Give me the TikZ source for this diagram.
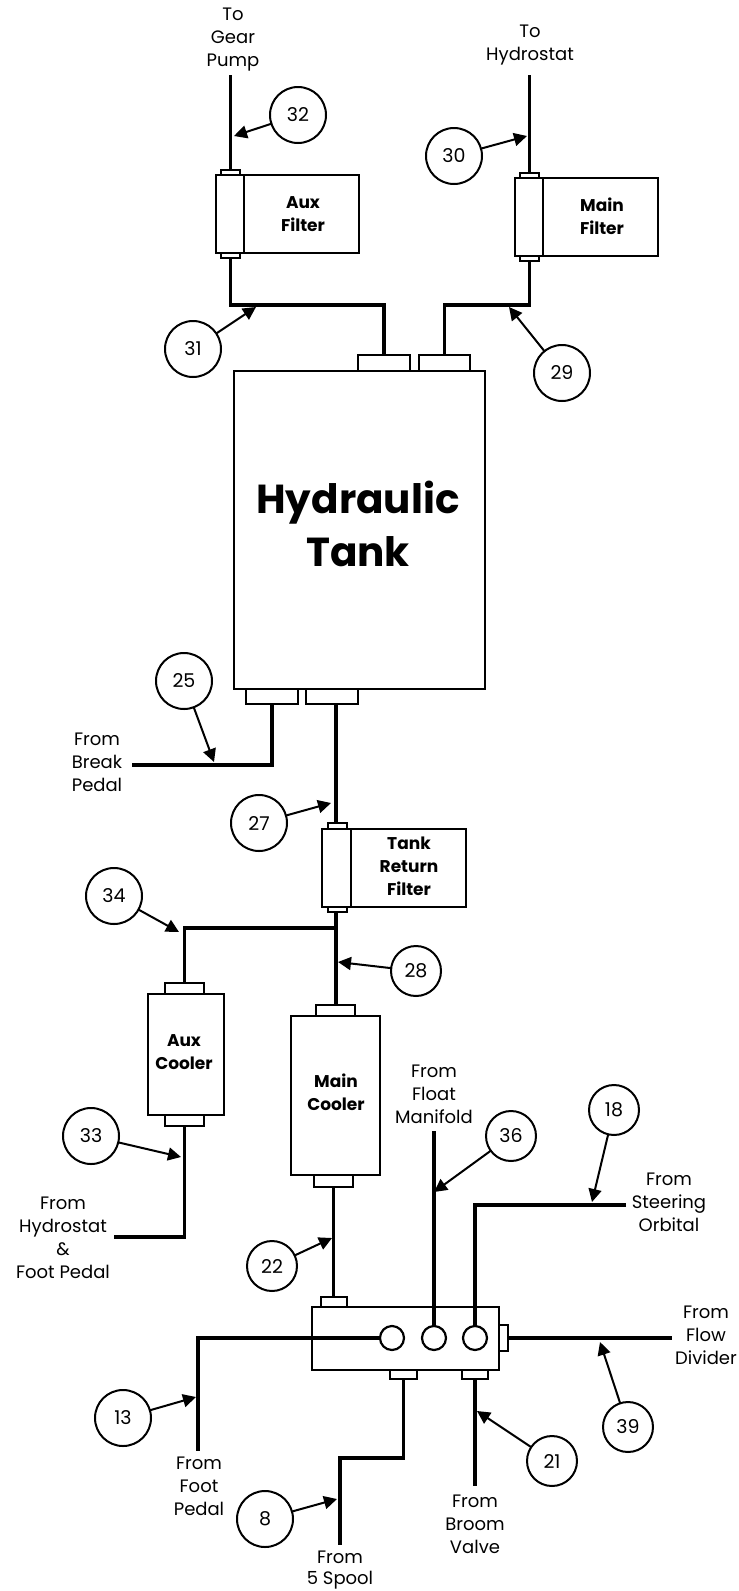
\documentclass[tikz,border=0pt]{standalone}
\usepackage{fontspec}
\setmainfont{Poppins}
\usetikzlibrary{arrows.meta}
\newcommand{\bx}[6][]{%
  \pgfmathsetmacro{\bxw}{#5-#3}\pgfmathsetmacro{\bxh}{#6-#4}%
  \pgfmathsetmacro{\bxx}{(#5+#3)/2}\pgfmathsetmacro{\bxy}{(#6+#4)/2}%
  \node[partbox,minimum width=\bxw pt,minimum height=\bxh pt,#1] (#2) at (\bxx,\bxy) {};}
\tikzset{
  partbox/.style={draw,line width=2.2pt,rectangle,inner sep=0pt,outer sep=0pt,fill=white},
  pipe/.style={line width=3.4pt,line cap=butt,line join=miter},
  callnum/.style={circle,draw,line width=2pt,inner sep=0pt,outer sep=0pt,fill=white,font=\fontsize{19}{22}\selectfont},
  bigcall/.style={callnum,minimum size=56pt},
  smallcall/.style={callnum,minimum size=50pt},
  callarrow/.style={line width=2pt,-{Triangle[length=13pt,width=13pt]}},
  lbl/.style={inner sep=0pt,outer sep=0pt,align=center,anchor=base,font=\fontsize{18}{22.7}\selectfont},
  blbl/.style={lbl,font=\fontsize{17}{23}\selectfont\bfseries},
  port/.style={circle,draw,line width=2.2pt,minimum size=24pt,inner sep=0pt,outer sep=0pt,fill=white},
}
\begin{document}
\begin{tikzpicture}[x=1pt,y=-1pt]
\useasboundingbox (0,0) rectangle (739,1591);
\bx{tank}{234}{371}{485}{689}
\bx{tankTopA}{358}{355}{410}{371}
\bx{tankTopB}{419}{355}{470}{371}
\bx{tankBotA}{246}{689}{298}{704}
\bx{tankBotB}{306}{689}{358}{704}
% Aux filter
\bx{afBody}{244}{175}{359}{253}
\bx[line width=2.6pt]{afNeck}{216}{175}{244}{253}
\bx{afTop}{221}{170}{240}{175}
\bx{afBot}{221}{253}{240}{258}
% Main filter
\bx{mfBody}{543}{178}{658}{256}
\bx[line width=2.6pt]{mfNeck}{515}{178}{543}{256}
\bx{mfTop}{520}{173}{539}{178}
\bx{mfBot}{520}{256}{539}{261}
% Tank return filter
\bx{trBody}{351}{829}{466}{907}
\bx[line width=2.6pt]{trNeck}{322}{829}{351}{907}
\bx{trTop}{328}{823}{347}{829}
\bx{trBot}{328}{907}{347}{912}
% Coolers
\bx{acBody}{148}{994}{224}{1115}
\bx{acTop}{165}{983}{204}{994}
\bx{acBot}{165}{1115}{204}{1126}
\bx{mcBody}{291}{1016}{380}{1175}
\bx{mcTop}{316}{1005}{355}{1016}
\bx{mcBot}{314}{1175}{353}{1187}
% Valve block
\bx{vbTop}{321}{1297}{347}{1307}
\bx{vbBody}{312}{1307}{499}{1370}
\bx{vbRight}{499}{1325}{508}{1351}
\bx{vbBotA}{390}{1370}{417}{1379}
\bx{vbBotB}{462}{1370}{488}{1379}
\node[port] (pA) at (392,1338) {};
\node[port] (pB) at (434,1338) {};
\node[port] (pC) at (475,1338) {};
% free ends and corners
\coordinate (gearEnd) at (230.5,75);
\coordinate (hydEnd) at (529.5,75);
\coordinate (jA) at (230.5,305);
\coordinate (jB) at (384,305);
\coordinate (jC) at (444.5,305);
\coordinate (jD) at (529.5,305);
\coordinate (brkEnd) at (132,765);
\coordinate (brkC) at (272,765);
\coordinate (jE) at (336,928);
\coordinate (jF) at (184.5,928);
\coordinate (hfEnd) at (114,1237);
\coordinate (hfC) at (184.5,1237);
\coordinate (floatEnd) at (434,1131);
\coordinate (steerEnd) at (626,1205);
\coordinate (steerC) at (475,1205);
\coordinate (flowEnd) at (672,1338);
\coordinate (footC) at (198,1338);
\coordinate (footEnd) at (198,1451);
\coordinate (spA) at (403.5,1458);
\coordinate (spB) at (340,1458);
\coordinate (spEnd) at (340,1545);
\coordinate (brmEnd) at (475,1486);
% pipes
\draw[pipe] (gearEnd) -- (afTop.north);
\draw[pipe] (hydEnd) -- (mfTop.north);
\draw[pipe] (afBot.south) -- (jA) -- (jB) -- (tankTopA.north -| jB);
\draw[pipe] (tankTopB.north -| jC) -- (jC) -- (jD) -- (mfBot.south);
\draw[pipe] (tankBotA.south -| brkC) -- (brkC) -- (brkEnd);
\draw[pipe] (tankBotB.south -| jE) -- (jE |- trTop.north);
\draw[pipe] (jE |- trBot.south) -- (mcTop.north -| jE);
\draw[pipe] (jE) -- (jF) -- (acTop.north);
\draw[pipe] (acBot.south) -- (hfC) -- (hfEnd);
\draw[pipe] (mcBot.south) -- (vbTop.north -| mcBot.south);
\draw[pipe] (pA.west) -- (footC) -- (footEnd);
\draw[pipe] (floatEnd) -- (pB.north);
\draw[pipe] (steerEnd) -- (steerC) -- (pC.north);
\draw[pipe] (vbRight.east) -- (flowEnd);
\draw[pipe] (vbBotA.south) -- (spA) -- (spB) -- (spEnd);
\draw[pipe] (vbBotB.south -| brmEnd) -- (brmEnd);
% callouts
\node[bigcall] (c32) at (298,115) {32};
\node[bigcall] (c30) at (454,156) {30};
\node[bigcall] (c31) at (193,349) {31};
\node[bigcall] (c29) at (562,373) {29};
\node[bigcall] (c25) at (184,681) {25};
\node[bigcall] (c27) at (259,823) {27};
\node[bigcall] (c34) at (114,896) {34};
\node[smallcall] (c28) at (416,971) {28};
\node[bigcall] (c33) at (91,1136) {33};
\node[smallcall] (c22) at (272,1266) {22};
\node[smallcall] (c36) at (511,1136) {36};
\node[smallcall] (c18) at (614,1110) {18};
\node[bigcall] (c13) at (123,1418) {13};
\node[bigcall] (c8) at (265,1519) {8};
\node[smallcall] (c21) at (552,1461) {21};
\node[smallcall] (c39) at (628,1427) {39};
\coordinate (t32) at (234,136);
\coordinate (t30) at (527,136);
\coordinate (t31) at (256,307);
\coordinate (t29) at (509,307);
\coordinate (t25) at (214,762);
\coordinate (t27) at (331,803);
\coordinate (t34) at (179,932);
\coordinate (t28) at (338,962);
\coordinate (t33) at (181,1157);
\coordinate (t22) at (332,1238);
\coordinate (t36) at (434,1192);
\coordinate (t18) at (592,1202);
\coordinate (t13) at (196,1397);
\coordinate (t8) at (337,1499);
\coordinate (t21) at (477,1411);
\coordinate (t39) at (600,1342);
\foreach \n in {32,30,31,29,25,27,34,28,33,22,36,18,13,8,21,39}
  \draw[callarrow] (c\n) -- (t\n);
% text (anchored at the baseline of the last line)
\node[lbl] (lGear) at (233,66) {To\\Gear\\Pump};
\node[lbl] (lHyd) at (530,60) {To\\Hydrostat};
\node[lbl] (lBrk) at (97,791) {From\\Break\\Pedal};
\node[lbl] (lHF) at (63,1278) {From\\Hydrostat\\\&\\Foot Pedal};
\node[lbl] (lFloat) at (434,1123) {From\\Float\\Manifold};
\node[lbl] (lSteer) at (669,1231) {From\\Steering\\Orbital};
\node[lbl] (lFlow) at (706,1364) {From\\Flow\\Divider};
\node[lbl] (lFoot) at (199,1515) {From\\Foot\\Pedal};
\node[lbl,font=\fontsize{18}{21}\selectfont] (lSpool) at (340,1584.5) {From\\5 Spool};
\node[lbl] (lBroom) at (475,1553) {From\\Broom\\Valve};
\node[blbl] (tAF) at (303,231) {Aux\\Filter};
\node[blbl] (tMF) at (602,234) {Main\\Filter};
\node[blbl] (tTR) at (409,895) {Tank\\Return\\Filter};
\node[blbl] (tAC) at (184,1069) {Aux\\Cooler};
\node[blbl] (tMC) at (336,1110) {Main\\Cooler};
\node[blbl,font=\fontsize{40.5}{53}\selectfont\bfseries] (tTank) at (358,566) {Hydraulic\\Tank};
\end{tikzpicture}
\end{document}
